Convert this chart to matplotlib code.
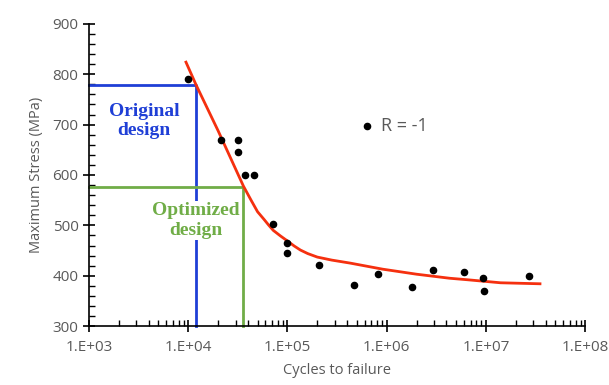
import numpy as np
import matplotlib
matplotlib.use("Agg")
import matplotlib.pyplot as plt
from matplotlib.ticker import FixedLocator, LogLocator, NullFormatter, MultipleLocator

plt.rcParams['font.family'] = ['Open Sans', 'DejaVu Sans']

# test data, R = -1
cycles = [1.0e4, 2.15e4, 3.2e4, 3.2e4, 3.7e4, 4.6e4, 7.1e4, 1.0e5, 1.0e5, 2.1e5,
          4.7e5, 8.1e5, 1.8e6, 2.9e6, 6.0e6, 9.3e6, 9.6e6, 2.7e7]
stress = [790, 670, 670, 645, 600, 600, 502, 465, 445, 422,
          382, 403, 378, 412, 407, 395, 369, 399]

# fitted S-N curve
fit_cycles = [9.5e3, 1.2e4, 2.0e4, 3.6e4, 4.3e4, 5.0e4, 5.8e4, 6.5e4, 7.2e4, 8.5e4,
              1.0e5, 1.17e5, 1.35e5, 1.6e5, 2.0e5, 2.8e5, 4.3e5, 9.1e5, 2.0e6,
              4.3e6, 6.5e6, 1.4e7, 3.5e7]
fit_stress = [824, 779, 688, 578, 550, 527, 512, 500, 490, 479,
              469, 459, 451, 444, 437, 431, 425, 413, 403,
              395, 392, 386, 384]

orig_n, orig_s = 1.2e4, 779
opt_n, opt_s = 3.6e4, 577

xticks = [1e3, 1e4, 1e5, 1e6, 1e7, 1e8]
xtick_labels = ["1.E+03", "1.E+04", "1.E+05", "1.E+06", "1.E+07", "1.E+08"]

fig = plt.figure(figsize=(6.09, 3.85), dpi=100)
ax = fig.add_axes([0.146, 0.153, 0.815, 0.785])

ax.set_xscale("log")
ax.set_xlim(1e3, 1e8)
ax.set_ylim(300, 900)

blue = "#1f3fd6"
green = "#70ad47"
ax.plot([1e3, orig_n, orig_n], [orig_s, orig_s, 300], color=blue, lw=2, zorder=2, clip_on=False)
ax.plot([1e3, opt_n, opt_n], [opt_s, opt_s, 300], color=green, lw=2, zorder=2, clip_on=False)

ax.plot(fit_cycles, fit_stress, color="#f5300f", lw=2, zorder=3)
ax.scatter(cycles, stress, s=20, color="black", zorder=4, label="R = -1")

ax.text(3.6e3, 707, "Original\ndesign", color=blue, fontsize=14, fontweight="bold",
        family="Liberation Serif", ha="center", va="center", linespacing=1.2, zorder=5)
ax.text(1.2e4, 510, "Optimized\ndesign", color=green, fontsize=14, fontweight="bold",
        family="Liberation Serif", ha="center", va="center", linespacing=1.2, zorder=5,
        bbox=dict(facecolor="white", edgecolor="none", pad=1))

leg = ax.legend(loc="center left", bbox_to_anchor=(0.545, 0.662), frameon=False,
                borderpad=0, borderaxespad=0, handlelength=0.8,
                handletextpad=0.4, fontsize=13)
for t in leg.get_texts():
    t.set_color("#595959")

ax.spines["top"].set_visible(False)
ax.spines["right"].set_visible(False)
ax.spines["left"].set_linewidth(1.2)
ax.spines["bottom"].set_linewidth(1.2)

ax.xaxis.set_major_locator(FixedLocator(xticks))
ax.set_xticklabels(xtick_labels)
ax.xaxis.set_minor_locator(LogLocator(base=10, subs=np.arange(2, 10)))
ax.xaxis.set_minor_formatter(NullFormatter())
ax.yaxis.set_major_locator(MultipleLocator(100))
ax.yaxis.set_minor_locator(MultipleLocator(20))

ax.tick_params(which="major", direction="inout", length=8, width=1.2, colors="black",
               labelcolor="#595959", labelsize=11)
ax.tick_params(which="minor", direction="in", length=4, width=1)
ax.tick_params(axis="x", pad=6)

ax.set_xlabel("Cycles to failure", color="#595959", fontsize=10.5, labelpad=6)
ax.set_ylabel("Maximum Stress (MPa)", color="#595959", fontsize=10.5, labelpad=6)

fig.savefig("out.png", dpi=100)
